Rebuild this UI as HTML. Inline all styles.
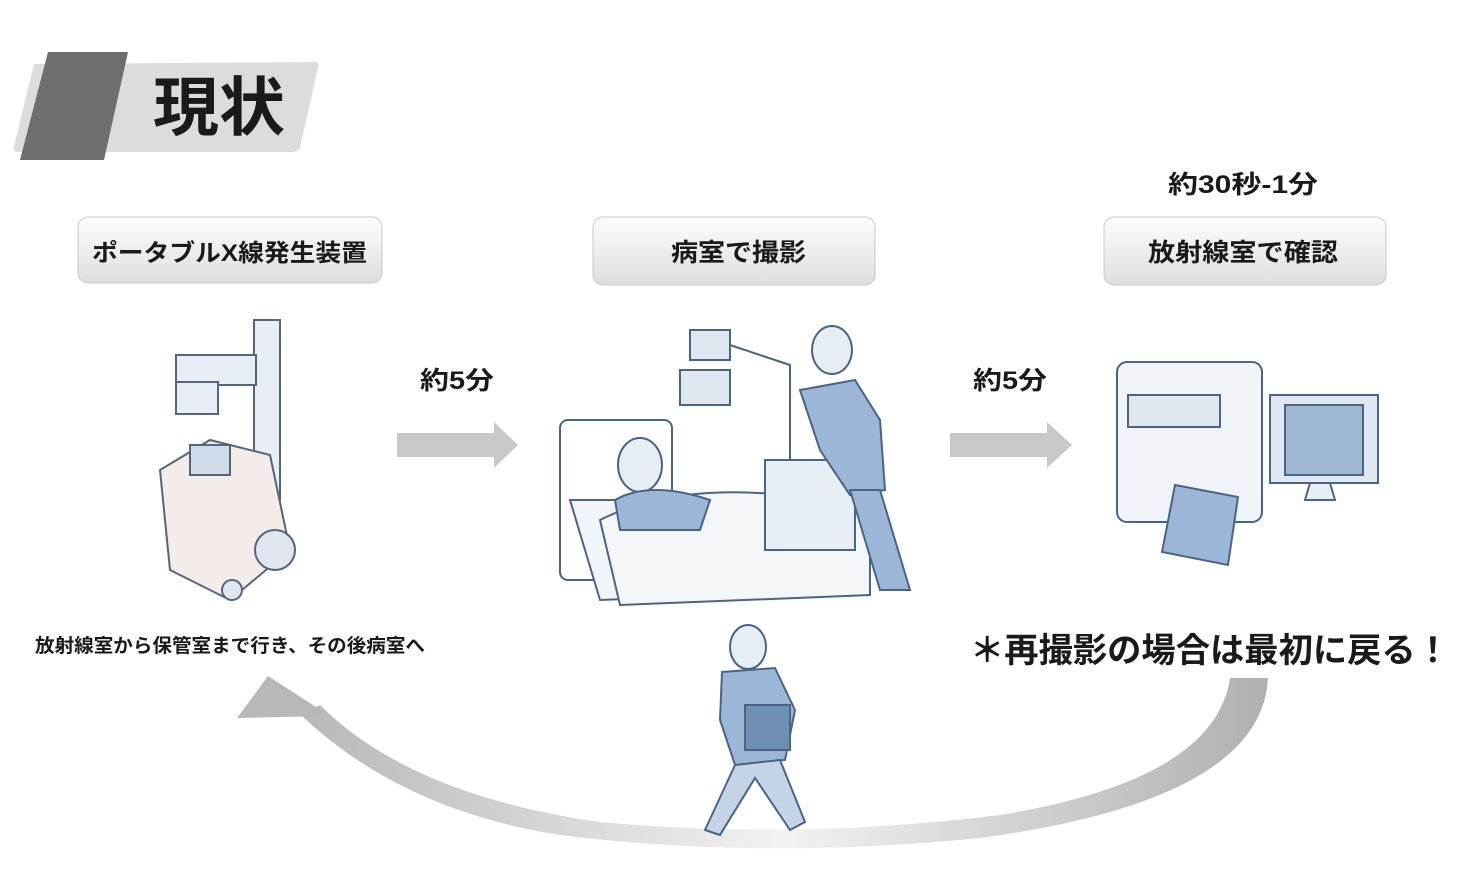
<!DOCTYPE html>
<html><head><meta charset="utf-8"><style>
body{margin:0;width:1464px;height:892px;background:#fff;overflow:hidden;font-family:"Liberation Sans","Noto Sans CJK JP",sans-serif}
svg{position:absolute;left:0;top:0}
text{font-family:"Liberation Sans","Noto Sans CJK JP",sans-serif;font-weight:bold;fill:#1a1a1a}
</style></head><body>
<svg width="1464" height="892" viewBox="0 0 1464 892">
<defs>
<linearGradient id="btn" x1="0" y1="0" x2="0" y2="1"><stop offset="0" stop-color="#fdfdfd"/><stop offset="1" stop-color="#dedede"/></linearGradient>
<linearGradient id="curve" x1="0" y1="0" x2="1" y2="0"><stop offset="0" stop-color="#b8b8b8"/><stop offset="0.5" stop-color="#f2f2f2"/><stop offset="1" stop-color="#b0b0b0"/></linearGradient>
</defs>
<path d="M34 64 L316 62 Q320 62 318 68 L300 148 Q298 152 292 152 L18 152 Q12 152 14 146 Z" fill="#dcdcdc"/>
<polygon points="48,52 128,52 104,160 20,160" fill="#6e6e6e"/>
<text x="153" y="130" font-size="64" textLength="132" lengthAdjust="spacingAndGlyphs">現状</text>
<rect x="78" y="217" width="304" height="66" rx="10" fill="url(#btn)" stroke="#c9c9c9"/>
<text x="92" y="261" font-size="24" textLength="275" lengthAdjust="spacingAndGlyphs">ポータブルX線発生装置</text>
<rect x="593" y="217" width="282" height="68" rx="10" fill="url(#btn)" stroke="#c9c9c9"/>
<text x="671" y="261" font-size="25" textLength="135" lengthAdjust="spacingAndGlyphs">病室で撮影</text>
<rect x="1104" y="217" width="282" height="68" rx="10" fill="url(#btn)" stroke="#c9c9c9"/>
<text x="1148" y="261" font-size="25" textLength="190" lengthAdjust="spacingAndGlyphs">放射線室で確認</text>
<text x="1168" y="193" font-size="25" textLength="150" lengthAdjust="spacingAndGlyphs">約30秒-1分</text>
<text x="420" y="389" font-size="25" textLength="74" lengthAdjust="spacingAndGlyphs">約5分</text>
<text x="973" y="389" font-size="25" textLength="74" lengthAdjust="spacingAndGlyphs">約5分</text>
<polygon points="397,433 494,433 494,422 518,445 494,468 494,457 397,457" fill="#c8c8c8"/>
<polygon points="950,433 1047,433 1047,422 1072,445 1047,468 1047,457 950,457" fill="#c8c8c8"/>
<text x="35" y="652" font-size="19" textLength="390" lengthAdjust="spacingAndGlyphs">放射線室から保管室まで行き、その後病室へ</text>
<text x="970" y="662" font-size="34" textLength="480" lengthAdjust="spacingAndGlyphs">＊再撮影の場合は最初に戻る！</text>
<path d="M1230 678 L1268 678 Q1262 800 980 838 Q760 860 560 835 Q400 810 300 714 L320 705 Q410 795 600 822 Q800 840 1000 815 Q1215 780 1230 678 Z" fill="url(#curve)"/>
<polygon points="237,718 268,676 330,716" fill="#b8b8b8"/>
<g fill="#f4ece9" stroke="#55657a" stroke-width="2">
<rect x="254" y="320" width="26" height="180" fill="#e8eef5"/>
<rect x="176" y="355" width="80" height="30" fill="#e8eef5"/>
<rect x="176" y="382" width="42" height="32" fill="#e8eef5"/>
<path d="M160 470 L210 440 L270 455 L290 550 L230 600 L170 570 Z"/>
<rect x="190" y="445" width="40" height="30" fill="#cfdbe8"/>
<circle cx="275" cy="550" r="20" fill="#dfe6ef"/>
<circle cx="232" cy="590" r="10" fill="#dfe6ef"/>
</g>
<g stroke="#4a6483" stroke-width="2" fill="#fff">
<rect x="560" y="420" width="112" height="160" rx="8" fill="none"/>
<path d="M570 500 L870 500 L870 590 L600 600 Z" fill="#f1f4f8"/>
<path d="M600 520 Q700 470 870 510 L870 595 L620 605 Z" fill="#f4f6f9"/>
<ellipse cx="640" cy="465" rx="22" ry="27" fill="#e6edf5"/>
<path d="M615 500 Q650 480 710 500 L700 530 L620 530 Z" fill="#9bb6d6"/>
<rect x="765" y="460" width="90" height="90" fill="#e8eef5"/>
<rect x="690" y="330" width="40" height="30" fill="#dfe7f1"/>
<rect x="680" y="370" width="50" height="35" fill="#dfe7f1"/>
<path d="M730 345 L790 365 L790 460" fill="none"/>
<path d="M800 390 L855 380 L880 420 L885 490 L850 495 L820 450 Z" fill="#9bb6d6"/>
<ellipse cx="832" cy="350" rx="20" ry="24" fill="#e6edf5"/>
<path d="M850 490 L880 490 L910 590 L880 590 Z" fill="#9bb6d6"/>
</g>
<g stroke="#4a6483" stroke-width="2">
<rect x="1117" y="362" width="145" height="160" rx="10" fill="#f0f3f7"/>
<rect x="1128" y="395" width="92" height="32" fill="#dfe7f1"/>
<rect x="1270" y="395" width="108" height="88" fill="#dfe7f1"/>
<rect x="1285" y="405" width="78" height="70" fill="#9eb7d3"/>
<path d="M1310 483 L1330 483 L1335 500 L1305 500 Z" fill="#e8eef5"/>
<polygon points="1175,485 1238,497 1228,565 1162,552" fill="#9bb6d6"/>
</g>
<g stroke="#4a6483" stroke-width="2">
<ellipse cx="748" cy="647" rx="18" ry="22" fill="#e6edf5"/>
<path d="M722 672 L775 668 L795 710 L785 760 L735 765 L720 720 Z" fill="#9bb6d6"/>
<rect x="745" y="705" width="45" height="45" fill="#6f8fb5"/>
<path d="M735 765 L705 830 L720 835 L755 778 L790 830 L805 822 L780 760 Z" fill="#c4d4e6"/>
</g>
</svg>
</body></html>
